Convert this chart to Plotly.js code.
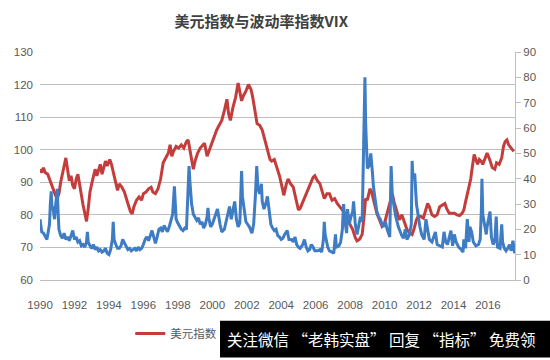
<!DOCTYPE html>
<html>
<head>
<meta charset="utf-8">
<script src="https://cdn.plot.ly/plotly-3.0.1.min.js"></script>
<style>html,body{margin:0;padding:0;background:#fff;}#chart{width:550px;height:360px;}</style>
</head>
<body>
<div id="chart"></div>
<script>
// 美元指数 (left axis)
const dollarYears = [1990.0,1990.1,1990.2,1990.3,1990.45,1990.55,1990.65,1990.75,1990.9,1991.0,1991.1,1991.2,1991.3,1991.4,1991.5,1991.6,1991.7,1991.8,1991.9,1992.0,1992.1,1992.2,1992.3,1992.4,1992.5,1992.6,1992.7,1992.8,1992.9,1993.0,1993.1,1993.2,1993.3,1993.4,1993.5,1993.6,1993.7,1993.8,1993.9,1994.05,1994.15,1994.25,1994.4,1994.5,1994.6,1994.75,1994.9,1995.0,1995.1,1995.25,1995.35,1995.45,1995.6,1995.75,1995.9,1996.0,1996.15,1996.3,1996.45,1996.55,1996.7,1996.85,1997.0,1997.15,1997.3,1997.45,1997.55,1997.65,1997.75,1997.9,1998.05,1998.2,1998.35,1998.5,1998.6,1998.7,1998.8,1998.9,1999.0,1999.15,1999.3,1999.45,1999.55,1999.7,1999.8,1999.95,2000.1,2000.25,2000.4,2000.55,2000.7,2000.85,2000.95,2001.05,2001.2,2001.35,2001.5,2001.6,2001.7,2001.8,2001.95,2002.1,2002.25,2002.35,2002.5,2002.6,2002.75,2002.9,2003.05,2003.2,2003.35,2003.45,2003.6,2003.75,2003.9,2004.05,2004.15,2004.3,2004.4,2004.55,2004.7,2004.85,2005.0,2005.1,2005.25,2005.4,2005.55,2005.7,2005.85,2005.95,2006.1,2006.25,2006.4,2006.5,2006.65,2006.8,2006.95,2007.1,2007.25,2007.4,2007.55,2007.7,2007.85,2008.0,2008.15,2008.3,2008.4,2008.55,2008.7,2008.8,2008.9,2009.0,2009.15,2009.25,2009.4,2009.55,2009.7,2009.85,2010.0,2010.15,2010.3,2010.45,2010.55,2010.7,2010.85,2011.0,2011.15,2011.3,2011.45,2011.6,2011.7,2011.85,2011.95,2012.1,2012.25,2012.4,2012.5,2012.6,2012.75,2012.9,2013.05,2013.2,2013.35,2013.5,2013.6,2013.75,2013.9,2014.05,2014.2,2014.35,2014.5,2014.6,2014.7,2014.85,2015.0,2015.1,2015.2,2015.3,2015.4,2015.5,2015.6,2015.7,2015.85,2015.95,2016.1,2016.25,2016.4,2016.5,2016.65,2016.8,2016.9,2017.0,2017.1,2017.2,2017.35,2017.5,2017.57];
const dollarIndex = [94,93,94.5,93,92.5,91,89.5,88,86,85,86.5,90,93,95,97.5,94,90.5,92,89,88,91,92.5,89,86,83,80.5,78,82,87,89.5,91.5,94,92,93.5,95.5,92.5,94.5,96.5,95,97,95.5,93,90,87.5,89.5,88.5,87,85.5,83.5,81,80.3,82.5,84.5,85.5,84.5,86.5,87,88,88.5,87,86.5,88,91,96,97.5,99,101.5,98,99.5,101,100.5,101.5,100.5,102.5,103,99.5,96,94,96.5,99,100.5,101.5,102,98,99.5,102,104,106,107.5,109,112,115.5,111,109,113,116,120.5,118,115,116.5,118,120,118.5,116,111,108,107.5,106,103,100,97,96.5,97,94.5,92,88.5,86,89.5,91,89.5,88.5,85,81.5,82,84,85.5,88,89.5,91.5,92,90.5,89.5,86.5,85,86.5,86.5,84.5,85,83.5,82.5,81.5,80.5,78.5,77,75.5,73,72,72.5,74,79,85,84.5,88,87,84,80.5,78.5,76.5,77.5,80.5,83,86.5,84,81.5,78.5,80,77.5,75.5,74.5,74,75.5,78.5,79.5,79.5,79,81.5,83.5,82.5,80,79.5,80,82.5,83,83.5,82,80.5,80.5,80.5,80,79.8,80.5,81.5,84,88,91,95,98.5,97,95.5,97,96.5,95.5,98,99,97,94.5,94,96,95.5,97.5,101,102.5,103,101.5,100.5,99.5];

// 波动率指数VIX (right axis)
const vixYears = [1990.0,1990.05,1990.1,1990.2,1990.3,1990.4,1990.45,1990.55,1990.6,1990.65,1990.7,1990.75,1990.8,1990.85,1990.9,1991.0,1991.05,1991.1,1991.2,1991.3,1991.4,1991.5,1991.6,1991.7,1991.8,1991.9,1992.0,1992.1,1992.2,1992.3,1992.4,1992.5,1992.6,1992.7,1992.75,1992.8,1992.9,1993.0,1993.1,1993.2,1993.3,1993.4,1993.5,1993.6,1993.7,1993.8,1993.9,1994.0,1994.1,1994.2,1994.25,1994.3,1994.4,1994.5,1994.6,1994.7,1994.8,1994.9,1995.0,1995.1,1995.2,1995.3,1995.4,1995.5,1995.6,1995.7,1995.8,1995.9,1996.0,1996.1,1996.2,1996.3,1996.4,1996.5,1996.6,1996.7,1996.8,1996.9,1997.0,1997.1,1997.2,1997.3,1997.4,1997.5,1997.6,1997.7,1997.8,1997.85,1997.9,1998.0,1998.1,1998.2,1998.3,1998.4,1998.5,1998.6,1998.65,1998.7,1998.8,1998.9,1999.0,1999.1,1999.2,1999.3,1999.4,1999.5,1999.6,1999.7,1999.75,1999.8,1999.9,2000.0,2000.1,2000.2,2000.3,2000.45,2000.55,2000.7,2000.8,2000.9,2001.0,2001.1,2001.2,2001.3,2001.4,2001.5,2001.6,2001.7,2001.75,2001.85,2001.95,2002.05,2002.15,2002.3,2002.4,2002.5,2002.58,2002.65,2002.75,2002.85,2002.9,2003.0,2003.1,2003.2,2003.3,2003.4,2003.5,2003.6,2003.7,2003.8,2003.9,2004.0,2004.1,2004.2,2004.35,2004.45,2004.6,2004.7,2004.8,2004.9,2005.0,2005.1,2005.25,2005.35,2005.45,2005.55,2005.65,2005.75,2005.85,2005.95,2006.1,2006.25,2006.35,2006.45,2006.5,2006.55,2006.7,2006.8,2006.95,2007.05,2007.15,2007.2,2007.35,2007.45,2007.55,2007.62,2007.7,2007.8,2007.85,2007.95,2008.05,2008.15,2008.2,2008.3,2008.4,2008.5,2008.6,2008.7,2008.75,2008.82,2008.86,2008.9,2008.95,2009.0,2009.1,2009.2,2009.3,2009.35,2009.45,2009.55,2009.65,2009.75,2009.85,2009.95,2010.05,2010.15,2010.3,2010.38,2010.45,2010.55,2010.65,2010.8,2010.9,2011.0,2011.1,2011.2,2011.3,2011.45,2011.55,2011.6,2011.65,2011.75,2011.85,2011.95,2012.05,2012.15,2012.3,2012.4,2012.5,2012.6,2012.75,2012.85,2012.95,2013.05,2013.2,2013.35,2013.45,2013.55,2013.65,2013.75,2013.85,2013.95,2014.05,2014.15,2014.3,2014.45,2014.55,2014.6,2014.7,2014.8,2014.9,2014.95,2015.05,2015.15,2015.3,2015.45,2015.55,2015.62,2015.65,2015.7,2015.8,2015.9,2015.95,2016.05,2016.12,2016.2,2016.3,2016.4,2016.48,2016.55,2016.7,2016.8,2016.85,2016.95,2017.05,2017.15,2017.25,2017.35,2017.45,2017.55];
const vixValues = [24,21,19,18.5,17,16,18,22,30,35,28,29,26,24,29,36,27,20,17.5,16.5,18.5,16,17,15.5,17.5,19.5,16,17,15,15.5,13.5,14,13,15,19,15,13.5,12.5,14,12,13,11.5,12,11,11.5,12.5,10.5,10,12,16,23,16,14,12.5,12.5,13.5,16,14.5,13,12,12.5,11.5,12,12.5,11.5,13,12,12.5,14,16,17,15.5,17.5,19.5,17,14.5,17,20,20.5,19,21.5,20,19,21,23.5,26,37,29,24,22.5,21,20,19.5,20.5,20,33,45,39,30,26,25,23.5,24.5,22,23,20.5,22,25,28.5,24.5,21,22,24,26,28,22,19,20,23.5,26,29,24,28,31,24,21,22.5,43,33,28,23,22,21,18.5,22,33,45,36,34,38,31,28,30,33,27,22,20.5,19.5,20,17.5,17,16,16.5,18,19.5,16,16,15,17,14,13,12.5,14,16,13,11.5,12,14,13,11.5,11.5,12,11,16,23,18,13,11.5,11,10.5,18,13,13.5,15,20,30,23,18.5,28,22,25,27,31,22,18,21.5,25,23,40,70,80,62,55,44,45,50,42,37,32,27,25,24,22,21,23,20,17,45,33,29,25,21,19,17.5,16.5,20,16,18,22,47,40,42,30,25,21,18,16,24,19,16,15,17,19,14,13.5,13,19,15,14,17,19.5,13.5,18,15,13,12,11,16,12.5,24,15,21,19,15,13.5,14,16,28,40,26,22,18,21,24,27,17,14,15.5,25,13,12.5,22,15,12.5,11.5,12.5,14,11.5,15.5,10.5];

const yearTicks = [1990,1992,1994,1996,1998,2000,2002,2004,2006,2008,2010,2012,2014,2016];

const tickFont = {family: 'Liberation Sans, Arial, sans-serif', size: 11.5, color: '#595959'};

const traces = [
  {x: dollarYears, y: dollarIndex, name: '美元指数', type: 'scatter', mode: 'lines',
   line: {color: '#C43D3D', width: 3}, yaxis: 'y'},
  {x: vixYears, y: vixValues, name: 'VIX', type: 'scatter', mode: 'lines', showlegend: false,
   line: {color: '#3E7CC4', width: 3}, yaxis: 'y2'}
];

const layout = {
  width: 550, height: 360,
  margin: {l: 40, r: 35, t: 52, b: 73},
  paper_bgcolor: '#fff', plot_bgcolor: '#fff',
  title: {text: '<b>美元指数与波动率指数VIX</b>', x: 0.475, xanchor: 'center', y: 0.94, yanchor: 'middle',
          font: {family: 'Noto Sans CJK SC, sans-serif', size: 15, color: '#404040'}},
  xaxis: {range: [1990, 2017.57], tickmode: 'array', tickvals: yearTicks, ticktext: yearTicks.map(String),
          showgrid: false, zeroline: false, showline: true, linecolor: '#BFBFBF', linewidth: 1,
          ticks: '', tickfont: tickFont, ticklabelstandoff: 14, automargin: false},
  yaxis: {range: [60, 130], dtick: 10, showgrid: true, gridcolor: '#BFBFBF', gridwidth: 1,
          zeroline: false, showline: false, ticks: '', tickfont: tickFont, ticklabelstandoff: 6, automargin: false},
  yaxis2: {range: [0, 90], dtick: 10, overlaying: 'y', side: 'right', showgrid: false, zeroline: false,
           showline: true, linecolor: '#BFBFBF', ticks: 'outside', ticklen: 5, tickcolor: '#BFBFBF',
           tickfont: tickFont, automargin: false},
  showlegend: true,
  legend: {orientation: 'h', x: 0.19, xanchor: 'left', y: -0.235, yanchor: 'middle',
           font: {family: 'Noto Sans CJK SC, sans-serif', size: 11.5, color: '#595959'}, bgcolor: 'rgba(0,0,0,0)'},
  shapes: [
    {type: 'rect', xref: 'paper', yref: 'paper', x0: 0.379, x1: 1.1, y0: -0.179, y1: -0.34,
     fillcolor: '#000', line: {width: 0}, layer: 'above'}
  ],
  annotations: [
    {xref: 'paper', yref: 'paper', x: 0.39, xanchor: 'left', y: -0.26, yanchor: 'middle', showarrow: false,
     text: '关注微信 “老韩实盘” 回复 “指标” 免费领', font: {family: 'Noto Sans CJK SC, sans-serif', size: 15.5, color: '#fff'}}
  ]
};

Plotly.newPlot('chart', traces, layout, {staticPlot: true, displayModeBar: false});
</script>
</body>
</html>
